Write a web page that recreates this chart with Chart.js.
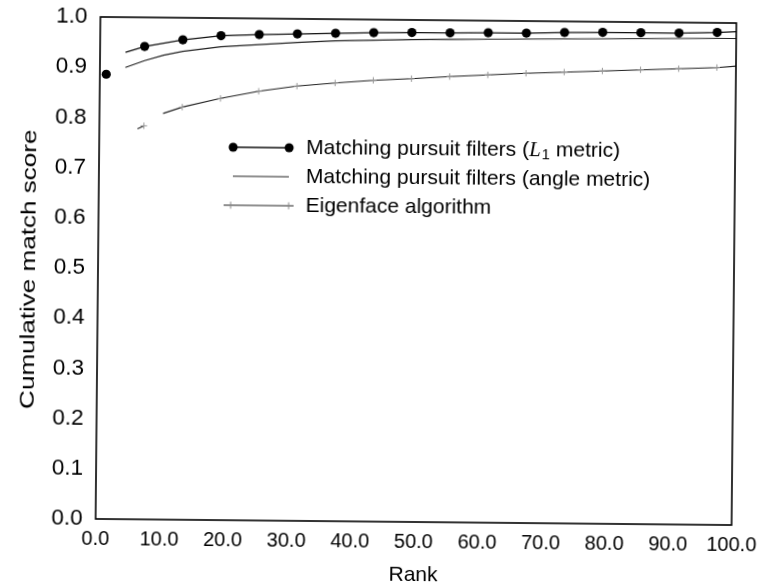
<!DOCTYPE html>
<html>
<head>
<meta charset="utf-8">
<script src="https://cdn.jsdelivr.net/npm/chart.js@4.4.0/dist/chart.umd.min.js"></script>
<style>
  html, body { margin: 0; padding: 0; background: #fff; overflow: hidden; }
  /* the scanned figure sits slightly tilted */
  #wrap { width: 762px; height: 586px; transform: rotate(0.55deg); transform-origin: 416px 271px; }
</style>
</head>
<body>
<div id="wrap"><canvas id="chart" width="762" height="586"></canvas></div>
<script>
// Matching pursuit filters (L1 metric)
const l1Ranks  = [1, 3, 4, 7, 13, 19, 25, 31, 37, 43, 49, 55, 61, 67, 73, 79, 85, 91, 97, 100];
const l1Scores = [0.886, null, 0.930, 0.942, 0.956, 0.965, 0.968, 0.970, 0.972, 0.974, 0.975,
                  0.975, 0.976, 0.976, 0.978, 0.979, 0.979, 0.979, 0.981, 0.983];

// Matching pursuit filters (angle metric)
const angleRanks  = [4, 7, 10, 13, 19, 25, 31, 37, 43, 49, 55, 61, 67, 73, 79, 85, 91, 97, 100];
const angleScores = [0.900, 0.914, 0.925, 0.933, 0.943, 0.948, 0.953, 0.957, 0.959, 0.961,
                     0.962, 0.963, 0.964, 0.965, 0.966, 0.967, 0.968, 0.969, 0.969];

// Eigenface algorithm
const eigenRanks  = [6, 7, 8, 10, 13, 19, 25, 31, 37, 43, 49, 55, 61, 67, 73, 79, 85, 91, 97, 100];
const eigenScores = [0.778, 0.784, null, 0.809, 0.822, 0.840, 0.855, 0.866, 0.873, 0.879, 0.883,
                     0.888, 0.892, 0.896, 0.899, 0.902, 0.905, 0.908, 0.911, 0.914];

const markerRanks = [1, 7, 13, 19, 25, 31, 37, 43, 49, 55, 61, 67, 73, 79, 85, 91, 97];

const xTicks = [0, 10, 20, 30, 40, 50, 60, 70, 80, 90, 100];
const yTicks = [0, 0.1, 0.2, 0.3, 0.4, 0.5, 0.6, 0.7, 0.8, 0.9, 1.0];

const seriesNames = [
    'Matching pursuit filters (L1 metric)',
    'Matching pursuit filters (angle metric)',
    'Eigenface algorithm'
];
const yTitle = 'Cumulative match score';

const FONT = '"Liberation Sans", Arial, Helvetica, sans-serif';

function toPoints(ranks, scores) {
    return ranks.map((r, i) => ({ x: r, y: scores[i] }));
}

function isMarker(ctx) {
    return ctx.raw && markerRanks.includes(ctx.raw.x);
}

// frame around the plot area + the (tall) y axis title
const framePlugin = {
    id: 'frame',
    afterDraw(chart) {
        const { ctx, chartArea: a } = chart;
        ctx.save();
        ctx.strokeStyle = '#000';
        ctx.lineWidth = 1.6;
        ctx.strokeRect(a.left, a.top, a.right - a.left, a.bottom - a.top);

        // y title is stretched along its length in the original
        ctx.translate(35, (a.top + a.bottom) / 2 + 2);
        ctx.rotate(-Math.PI / 2);
        ctx.scale(1.24, 1);
        ctx.font = '21px ' + FONT;
        ctx.fillStyle = '#000';
        ctx.textAlign = 'center';
        ctx.textBaseline = 'alphabetic';
        ctx.fillText(yTitle, 0, 0);
        ctx.restore();
    }
};

// legend drawn inside the plot, like the original figure
const insideLegend = {
    id: 'insideLegend',
    afterDraw(chart) {
        const ctx = chart.ctx;
        const rows = [149, 178, 207];
        const textX = 305;
        ctx.save();
        ctx.fillStyle = '#000';
        ctx.strokeStyle = '#111';
        ctx.textBaseline = 'middle';
        ctx.textAlign = 'left';

        // row 1: line with dots
        ctx.lineWidth = 1.3;
        ctx.beginPath();
        ctx.moveTo(232, rows[0]);
        ctx.lineTo(288, rows[0]);
        ctx.stroke();
        [232, 288].forEach(x => {
            ctx.beginPath();
            ctx.arc(x, rows[0], 4.5, 0, Math.PI * 2);
            ctx.fill();
        });
        ctx.font = '21px ' + FONT;
        let t = 'Matching pursuit filters (';
        ctx.fillText(t, textX, rows[0]);
        let x = textX + ctx.measureText(t).width;
        ctx.font = 'italic 21px "Liberation Serif", "DejaVu Serif", serif';
        ctx.fillText('L', x, rows[0]);
        x += ctx.measureText('L').width + 1;
        ctx.font = '15px ' + FONT;
        ctx.fillText('1', x, rows[0] + 5);
        x += ctx.measureText('1').width;
        ctx.font = '21px ' + FONT;
        ctx.fillText(' metric)', x, rows[0]);

        // row 2: plain line
        ctx.lineWidth = 1;
        ctx.strokeStyle = '#222';
        ctx.beginPath();
        ctx.moveTo(232, rows[1]);
        ctx.lineTo(288, rows[1]);
        ctx.stroke();
        ctx.fillText(seriesNames[1], textX, rows[1]);

        // row 3: line with small crosses
        ctx.beginPath();
        ctx.moveTo(223, rows[2]);
        ctx.lineTo(293, rows[2]);
        ctx.stroke();
        ctx.strokeStyle = '#888';
        [230, 288].forEach(cx => {
            ctx.beginPath();
            ctx.moveTo(cx, rows[2] - 3.5);
            ctx.lineTo(cx, rows[2] + 3.5);
            ctx.stroke();
        });
        ctx.fillText(seriesNames[2], textX, rows[2]);
        ctx.restore();
    }
};

const chart = new Chart(document.getElementById('chart').getContext('2d'), {
    type: 'line',
    data: {
        datasets: [{
            label: seriesNames[0],
            data: toPoints(l1Ranks, l1Scores),
            borderColor: '#111',
            borderWidth: 1.2,
            backgroundColor: '#000',
            pointBackgroundColor: '#000',
            pointBorderWidth: 0,
            pointRadius: ctx => isMarker(ctx) ? 4.6 : 0,
            spanGaps: false,
            tension: 0
        }, {
            label: seriesNames[1],
            data: toPoints(angleRanks, angleScores),
            borderColor: '#222',
            borderWidth: 1.1,
            pointRadius: 0,
            spanGaps: false,
            tension: 0
        }, {
            label: seriesNames[2],
            data: toPoints(eigenRanks, eigenScores),
            borderColor: '#222',
            borderWidth: 1.1,
            pointStyle: 'cross',
            pointBorderColor: '#999',
            pointBorderWidth: 1,
            pointRadius: ctx => isMarker(ctx) ? 3.2 : 0,
            spanGaps: false,
            tension: 0
        }]
    },
    options: {
        responsive: false,
        animation: false,
        devicePixelRatio: 1,
        layout: { padding: { top: 20, right: 28, left: 0, bottom: 0 } },
        plugins: {
            legend: { display: false },
            tooltip: { enabled: false }
        },
        scales: {
            x: {
                type: 'linear',
                min: 0,
                max: 100,
                afterBuildTicks: s => { s.ticks = xTicks.map(v => ({ value: v })); },
                afterFit: s => { s.height = 64; s.paddingLeft = 0; s.paddingRight = 0; },
                grid: { display: false, drawTicks: false },
                border: { display: false },
                ticks: {
                    color: '#000',
                    padding: 8,
                    maxRotation: 0,
                    autoSkip: false,
                    font: { family: FONT, size: 20 },
                    callback: v => v.toFixed(1)
                },
                title: {
                    display: true,
                    text: 'Rank',
                    color: '#000',
                    padding: { top: 0, bottom: 0 },
                    font: { family: FONT, size: 21, lineHeight: 1 }
                }
            },
            y: {
                type: 'linear',
                min: 0,
                max: 1,
                afterBuildTicks: s => { s.ticks = yTicks.map(v => ({ value: v })); },
                afterFit: s => { s.width = 98; s.paddingTop = 0; s.paddingBottom = 0; },
                grid: { display: false, drawTicks: false },
                border: { display: false },
                ticks: {
                    color: '#000',
                    padding: 13,
                    autoSkip: false,
                    font: { family: FONT, size: 22.5 },
                    callback: v => v.toFixed(1)
                },
                title: { display: false }
            }
        }
    },
    plugins: [framePlugin, insideLegend]
});
</script>
</body>
</html>
